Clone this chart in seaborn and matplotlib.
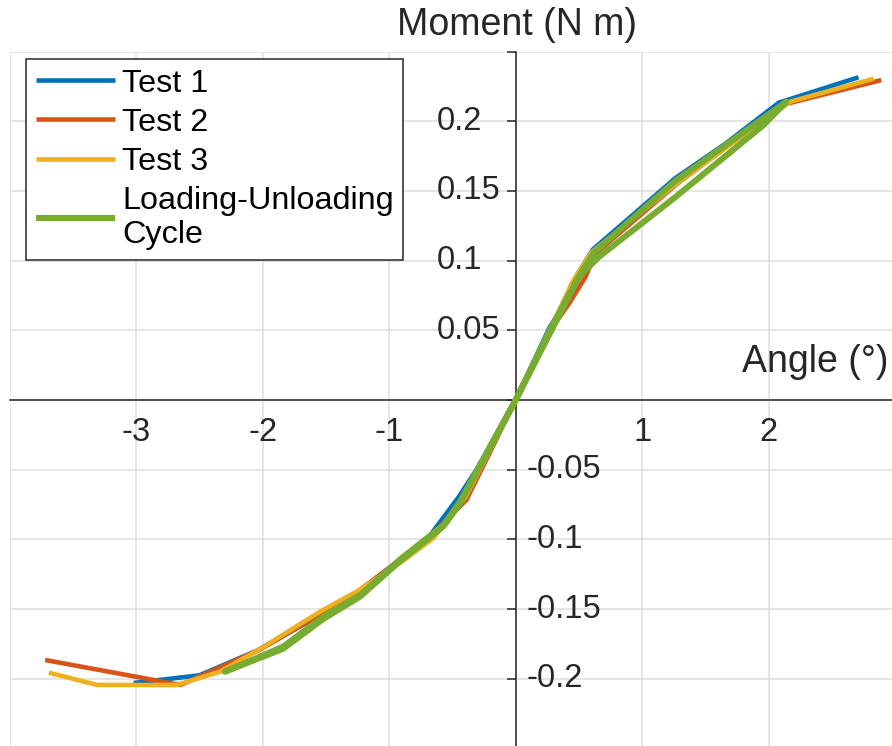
import numpy as np
import pandas as pd
import matplotlib
matplotlib.use("Agg")
import matplotlib.pyplot as plt
import seaborn as sns

# ---- measured moment-angle data ------------------------------------------
test1_angle = [-3.02, -2.50, -2.05, -1.55, -1.25, -0.95, -0.70, -0.45, -0.31,
               0.0, 0.27, 0.40, 0.49, 0.61, 1.26, 1.66, 2.08, 2.71]
test1_moment = [-0.2030, -0.1975, -0.1800, -0.1545, -0.1380, -0.1170, -0.1000,
                -0.0695, -0.0500, 0.0, 0.0525, 0.0705, 0.0905, 0.1080, 0.1590,
                0.1840, 0.2133, 0.2315]

test2_angle = [-3.72, -2.65, -2.02, -1.55, -1.25, -0.95, -0.70, -0.39, -0.25,
               0.0, 0.25, 0.42, 0.55, 0.63, 1.28, 2.12, 2.89]
test2_moment = [-0.1865, -0.2044, -0.1790, -0.1540, -0.1375, -0.1170, -0.1000,
                -0.0717, -0.0460, 0.0, 0.0470, 0.0690, 0.0880, 0.1050, 0.1555,
                0.2120, 0.2295]

test3_angle = [-3.69, -3.31, -2.68, -2.34, -2.00, -1.55, -1.25, -0.90, -0.65,
               -0.40, 0.0, 0.30, 0.45, 0.60, 1.28, 2.17, 2.83]
test3_moment = [-0.1956, -0.2044, -0.2044, -0.1950, -0.1775, -0.1520, -0.1370,
                -0.1160, -0.0990, -0.0700, 0.0, 0.0560, 0.0850, 0.1060, 0.1560,
                0.2140, 0.2305]

# loading to the peak, unloading, then the reverse half of the cycle
cycle_angle = [0.0, 0.28, 0.50, 0.62, 1.26, 2.14, 1.96, 1.25, 0.66, 0.50, 0.0,
               -0.31, -0.44, -0.57, -0.92, -1.23, -1.52, -1.84, -2.30,
               -1.84, -1.52, -1.23, -0.92, -0.57, -0.44, -0.31, 0.0]
cycle_moment = [0.0, 0.0520, 0.0885, 0.1060, 0.1570, 0.2140, 0.1973, 0.1447,
                0.1028, 0.0885, 0.0,
                -0.0514, -0.0730, -0.0897, -0.1148, -0.1400, -0.1555, -0.1770,
                -0.1949,
                -0.1785, -0.1570, -0.1410, -0.1160, -0.0905, -0.0740, -0.0520,
                0.0]

series_names = ["Test 1", "Test 2", "Test 3", "Loading-Unloading\nCycle"]
series_colors = ["#0072BD", "#D95319", "#EDB120", "#77AC30"]
series_widths = [3.3, 3.3, 3.3, 4.4]

x_ticks = [-4, -3, -2, -1, 0, 1, 2, 3]
x_tick_labels = ["", "-3", "-2", "-1", "", "1", "2", ""]
y_ticks = [-0.25, -0.2, -0.15, -0.1, -0.05, 0.0, 0.05, 0.1, 0.15, 0.2, 0.25]
y_label_values = [0.2, 0.15, 0.1, 0.05, -0.05, -0.1, -0.15, -0.2]
y_label_texts = ["0.2", "0.15", "0.1", "0.05", "-0.05", "-0.1", "-0.15", "-0.2"]

x_label = "Angle (°)"
y_label = "Moment (N m)"

# ---- styling ---------------------------------------------------------------
sns.set_theme(style="white")
plt.rcParams["font.family"] = ["Liberation Sans", "DejaVu Sans"]
plt.rcParams["axes.unicode_minus"] = False

W, H = 892, 746
fig = plt.figure(figsize=(W / 100, H / 100), dpi=100)
ax_left, ax_right, ax_top, ax_bottom = 9.7, 895.2, 51.5, 748.5
ax = fig.add_axes([ax_left / W, (H - ax_bottom) / H,
                   (ax_right - ax_left) / W, (ax_bottom - ax_top) / H])

frames = [
    pd.DataFrame({"angle": test1_angle, "moment": test1_moment}),
    pd.DataFrame({"angle": test2_angle, "moment": test2_moment}),
    pd.DataFrame({"angle": test3_angle, "moment": test3_moment}),
    pd.DataFrame({"angle": cycle_angle, "moment": cycle_moment}),
]

for df, name, col, lw in zip(frames, series_names, series_colors, series_widths):
    sns.lineplot(data=df, x="angle", y="moment", sort=False, estimator=None,
                 color=col, linewidth=lw, label=name, ax=ax, zorder=3,
                 solid_joinstyle="round", solid_capstyle="butt")

ax.set_xlim(-4, 3)
ax.set_ylim(-0.25, 0.25)

ink = "#262626"
for side in ["top", "right"]:
    ax.spines[side].set_visible(False)
for side in ["left", "bottom"]:
    ax.spines[side].set_position(("data", 0))
    ax.spines[side].set_color(ink)
    ax.spines[side].set_linewidth(1.1)
    ax.spines[side].set_zorder(2.5)

ax.set_xticks(x_ticks)
ax.set_xticklabels(x_tick_labels)
ax.set_yticks(y_ticks)
ax.tick_params(axis="x", direction="in", length=7.2, width=1.1, color=ink,
               pad=12.5, labelsize=23.5, labelcolor=ink)
ax.tick_params(axis="y", direction="out", length=6.5, width=1.1, color=ink,
               labelleft=False, left=True)
ax.grid(True, color="#dedede", linewidth=1.1)
ax.set_axisbelow(True)

# y tick labels: positive values sit left of the axis, negative ones right
for v, t in zip(y_label_values, y_label_texts):
    dx = -57.0 if v > 0 else 7.5
    ax.annotate(t, xy=(0, v), xytext=(dx, 0), textcoords="offset points",
                ha="left", va="center", fontsize=23.5, color=ink)

ax.set_xlabel(x_label, fontsize=27, color=ink)
ax.xaxis.set_label_coords((889 - ax_left) / (ax_right - ax_left),
                          (ax_bottom - 361.5) / (ax_bottom - ax_top))
ax.xaxis.label.set_ha("right")
ax.xaxis.label.set_va("center")

ax.set_ylabel(y_label, fontsize=27, color=ink, rotation=0)
ax.yaxis.set_label_coords((517 - ax_left) / (ax_right - ax_left),
                          (ax_bottom - 25) / (ax_bottom - ax_top))
ax.yaxis.label.set_ha("center")
ax.yaxis.label.set_va("center")

handles, labels = ax.get_legend_handles_labels()
leg = ax.legend(handles, labels, loc="upper left",
                bbox_to_anchor=(26 / W, 1 - 59 / H), bbox_transform=fig.transFigure,
                frameon=True, fancybox=False, framealpha=1, edgecolor=ink,
                fontsize=23.3, handlelength=2.45, handletextpad=0.22,
                borderpad=0.3, labelspacing=0.28, borderaxespad=0)
leg.get_frame().set_linewidth(1.1)
for txt in leg.get_texts():
    txt.set_color("black")
    txt.set_linespacing(1.2)

fig.savefig("out.png", dpi=100)
